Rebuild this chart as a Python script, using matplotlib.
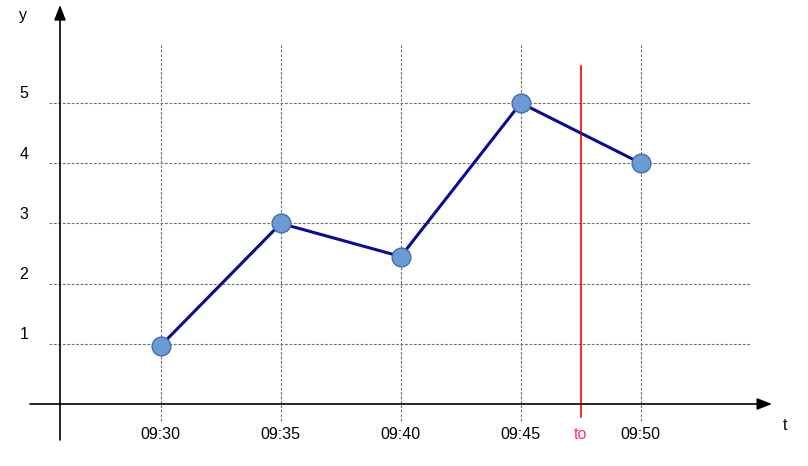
import matplotlib
matplotlib.use("Agg")
import matplotlib.pyplot as plt

# data
time_labels = ["09:30", "09:35", "09:40", "09:45", "09:50"]
minutes = [30, 35, 40, 45, 50]
values = [0.97, 3.0, 2.45, 5.0, 4.0]
y_ticks = [1, 2, 3, 4, 5]
t0_minute = 47.5
t0_label = "to"

plt.rcParams['font.family'] = ['Liberation Sans', 'DejaVu Sans']

fig = plt.figure(figsize=(8.08, 4.66), dpi=100)
ax = fig.add_axes([0, 0, 1, 1])
ax.set_xlim(23.3, 56.967)
ax.set_ylim(-1.030, 6.711)
ax.axis('off')

grid_kw = dict(color='#707070', lw=0.8, linestyle=(0, (2.5, 1.5)), zorder=1)
# horizontal grid
for yv in y_ticks:
    ax.plot([25.35, 54.6], [yv, yv], **grid_kw)
    ax.text(24.3, yv + 0.15, str(yv), ha='center', va='center', fontsize=11.5, color='black')
# vertical grid
for m, lab in zip(minutes, time_labels):
    ax.plot([m, m], [-0.28, 6.0], **grid_kw)
    ax.text(m, -0.515, lab, ha='center', va='center', fontsize=11.5, color='black')

# axes arrows
ax.annotate('', xy=(55.47, 0), xytext=(24.55, 0),
            arrowprops=dict(arrowstyle='-|>,head_length=0.9,head_width=0.35', color='black', lw=1.2,
                            shrinkA=0, shrinkB=0), zorder=3)
ax.annotate('', xy=(25.8, 6.628), xytext=(25.8, -0.598),
            arrowprops=dict(arrowstyle='-|>,head_length=0.9,head_width=0.35', color='black', lw=1.2,
                            shrinkA=0, shrinkB=0), zorder=3)
ax.text(24.26, 6.46, 'y', ha='center', va='center', fontsize=11.5)
ax.text(56.0, -0.36, 't', ha='center', va='center', fontsize=11.5)

# t0 line
ax.plot([t0_minute, t0_minute], [-0.216, 5.61], color='#ff0000', lw=1.2, zorder=2)
ax.text(t0_minute, -0.515, t0_label, ha='center', va='center', fontsize=11.5, color='#ff3366')

# series
ax.plot(minutes, values, color='#0a0a96', lw=2.2, zorder=4,
        marker='o', markersize=13.5, markerfacecolor='#6b9bd2', markeredgecolor='#3f6fae',
        markeredgewidth=1)

fig.savefig('out.png', dpi=100)
